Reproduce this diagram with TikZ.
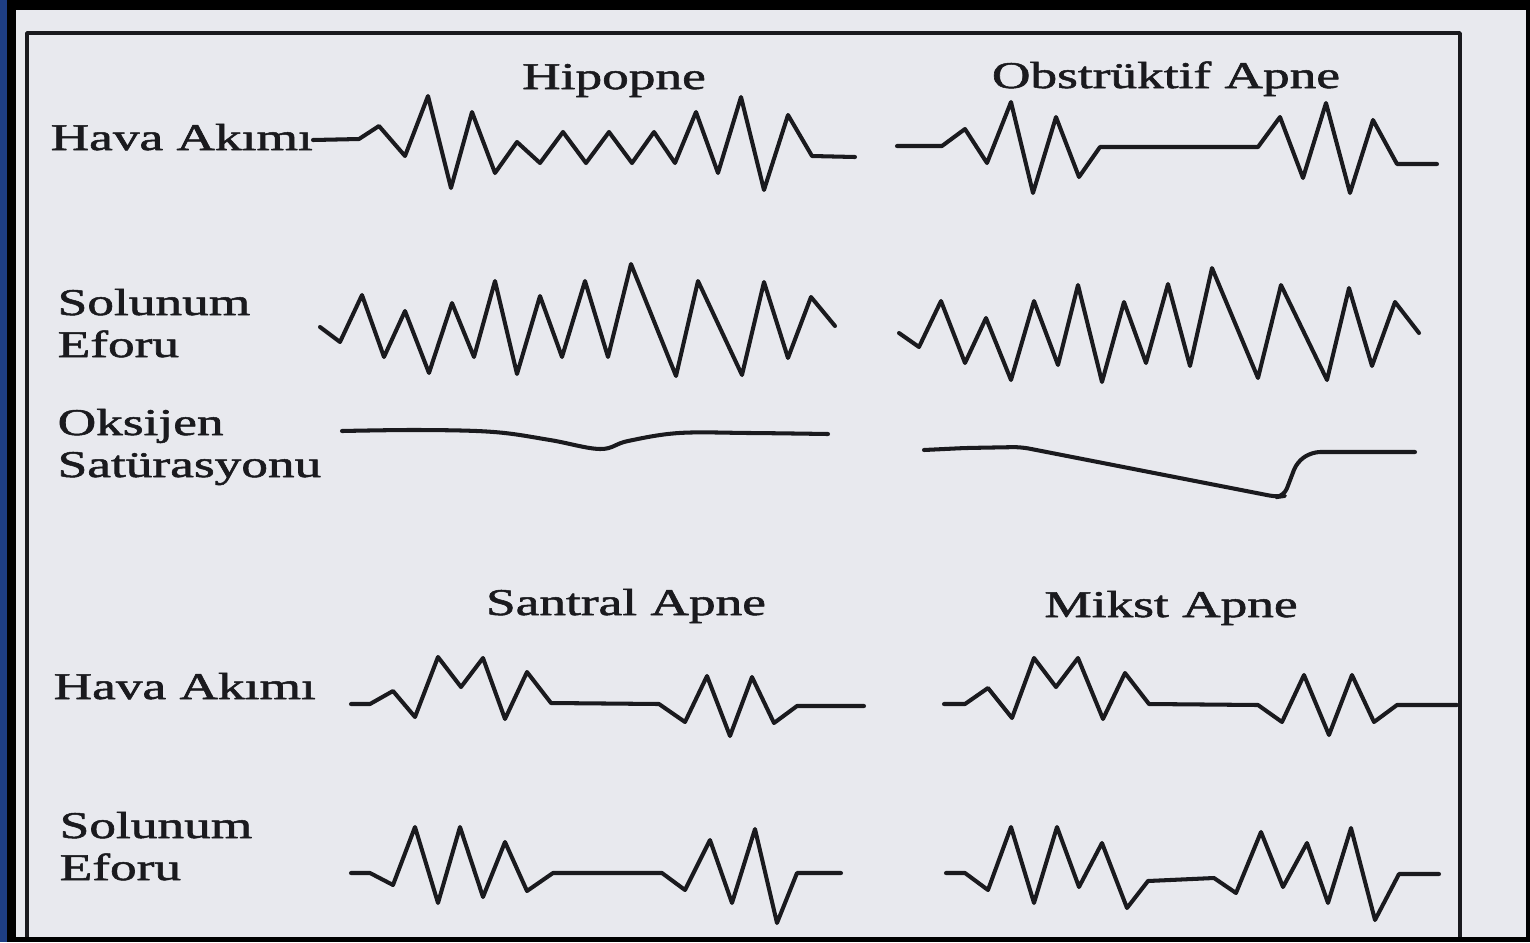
\documentclass[tikz,border=0pt]{standalone}
\usepackage{fontspec}
\setmainfont{Liberation Serif}[FakeBold=1.3]
\definecolor{paper}{RGB}{232,233,238}
\definecolor{navy}{RGB}{30,62,132}
\definecolor{ink}{RGB}{26,26,30}
\newcommand{\lblfont}{\fontsize{10.76}{12}\selectfont}
\newcommand{\wtxt}[1]{\scalebox{1.41}[1]{#1}}

\begin{document}
\begin{tikzpicture}[x=0.1mm,y=-0.1mm,line cap=round,line join=round,
  every node/.style={inner sep=0pt,text=ink,font=\lblfont},
  lbl/.style={anchor=base west},
  ttl/.style={anchor=base},
  wave/.style={draw=ink,line width=1.15pt},
  frame/.style={draw=ink,line width=1pt,line cap=butt}]
  \useasboundingbox (0,0) rectangle (1530,942);
  \fill[black] (0,0) rectangle (1530,942);
  \fill[navy] (0,0) rectangle (7,942);
  \fill[paper] (16,10) rectangle (1526,937);
  \draw[frame] (27,937) -- (27,33) -- (1460,33) -- (1460,937);
  \node[ttl] (hipTitle) at (614,89) {\wtxt{Hipopne}};
  \node[ttl] (obsTitle) at (1166,88) {\wtxt{Obstrüktif Apne}};
  \node[ttl] (sanTitle) at (626,615) {\wtxt{Santral Apne}};
  \node[ttl] (mikTitle) at (1171,617) {\wtxt{Mikst Apne}};
  \node[lbl] (havaTop) at (50,150) {\wtxt{Hava Akımı}};
  \node[lbl] (solTopA) at (57,315) {\wtxt{Solunum}};
  \node[lbl] (solTopB) at (57,357) {\wtxt{Eforu}};
  \node[lbl] (oksA) at (57,435) {\wtxt{Oksijen}};
  \node[lbl] (oksB) at (57,477) {\wtxt{Satürasyonu}};
  \node[lbl] (havaBot) at (53,699) {\wtxt{Hava Akımı}};
  \node[lbl] (solBotA) at (59,838) {\wtxt{Solunum}};
  \node[lbl] (solBotB) at (59,880) {\wtxt{Eforu}};
  \draw[wave] plot coordinates {(313,140) (359,139) (379,126) (405,156) (428,96) (451,188) (472,112) (495,173) (517,142) (540,163) (563,132) (586,163) (609,132) (632,163) (654,132) (675,163) (696,112) (718,173) (741,97) (764,190) (788,115) (812,156) (855,157)};
  \draw[wave] plot coordinates {(897,146) (942,146) (965,129) (987,163) (1011,102) (1033,193) (1056,117) (1079,177) (1100,147) (1258,147) (1280,117) (1303,178) (1326,103) (1350,193) (1373,120) (1397,164) (1437,164)};
  \draw[wave] plot coordinates {(320,327) (340,342) (362,295) (384,357) (405,311) (429,373) (452,303) (474,357) (495,281) (517,374) (540,296) (562,357) (585,281) (608,357) (631,264) (676,376) (698,281) (742,375) (764,282) (788,358) (811,297) (835,326)};
  \draw[wave] plot coordinates {(899,333) (919,347) (941,301) (965,363) (986,318) (1011,380) (1034,301) (1058,365) (1078,285) (1102,382) (1124,302) (1146,363) (1168,284) (1190,366) (1212,268) (1258,378) (1281,285) (1327,380) (1349,288) (1372,366) (1395,302) (1419,333)};
  \draw[wave] plot[smooth,tension=0.6] coordinates {(342,431) (420,430) (494,432) (550,440) (600,449) (628,441) (679,433) (750,433) (828,434)};
  \draw[wave,rounded corners=0.8mm] (924,450) -- (965,448) -- (1021,447) -- (1277,497) -- (1284,496) -- (1297,462) -- (1312,452) -- (1415,452);
  \draw[wave] plot coordinates {(351,704) (370,704) (393,691) (415,717) (438,657) (461,687) (483,658) (505,719) (527,672) (551,703) (659,704) (685,722) (707,676) (730,736) (752,677) (774,723) (797,706) (864,706)};
  \draw[wave] plot coordinates {(351,873) (370,873) (393,885) (415,827) (438,903) (460,827) (483,897) (505,842) (527,891) (553,873) (662,873) (685,890) (710,840) (732,903) (755,829) (777,923) (797,873) (841,873)};
  \draw[wave] plot coordinates {(944,704) (965,704) (988,688) (1012,718) (1034,658) (1056,687) (1078,658) (1103,719) (1125,673) (1149,704) (1258,705) (1282,722) (1304,675) (1329,735) (1352,675) (1374,722) (1397,705) (1457,705)};
  \draw[wave] plot coordinates {(946,873) (965,873) (988,890) (1011,827) (1034,903) (1057,827) (1079,887) (1102,843) (1127,908) (1148,881) (1214,878) (1236,893) (1261,832) (1283,887) (1307,843) (1328,903) (1351,828) (1375,920) (1399,874) (1439,874)};
\end{tikzpicture}
\end{document}
